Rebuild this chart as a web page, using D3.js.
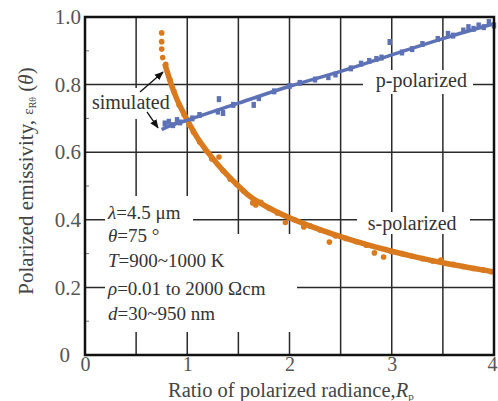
<!DOCTYPE html>
<html>
<head>
<meta charset="utf-8">
<script src="https://cdn.jsdelivr.net/npm/d3@7"></script>
<style>
  body { margin: 0; background: #fff; }
  svg text { font-family: "Liberation Serif", "Times New Roman", serif; }
</style>
</head>
<body>
<svg id="plot" width="498" height="401" viewBox="0 0 498 401"></svg>
<script>
// tick values
const xTicks = [0, 1, 2, 3, 4];
const yTicks = [0, 0.2, 0.4, 0.6, 0.8, 1.0];
const xGrid = [0.5, 1, 1.5, 2, 2.5, 3, 3.5];
const yGrid = [0.2, 0.4, 0.6, 0.8];
const yMinor = [0.1, 0.3, 0.5, 0.7, 0.9];

// simulated curves  [Rp, emissivity]
const sSimulated = [[0.78,0.862],[0.8,0.842],[0.85,0.795],[0.9,0.756],[0.95,0.724],[1.0,0.695],
  [1.1,0.642],[1.2,0.6],[1.3,0.563],[1.4,0.53],[1.5,0.5],[1.6,0.472],[1.8,0.435],[2.0,0.406],
  [2.25,0.376],[2.5,0.35],[2.75,0.327],[3.0,0.307],[3.25,0.289],[3.5,0.273],[3.75,0.259],[4.0,0.246]];
const pSimulated = [[0.75,0.667],[0.8,0.674],[0.9,0.685],[1.0,0.695],[1.5,0.745],[2.0,0.795],
  [2.5,0.839],[3.0,0.888],[3.5,0.936],[4.0,0.98]];

// measured points
const sMeasured = [[0.75,0.953],[0.75,0.927],[0.75,0.905],[0.76,0.88],[0.79,0.86],[0.83,0.815],
  [0.87,0.78],[0.92,0.74],[0.97,0.71],[1.02,0.68],[1.06,0.66],[1.12,0.63],[1.18,0.605],[1.24,0.58],
  [1.31,0.586],[1.35,0.545],[1.42,0.52],[1.48,0.505],[1.55,0.485],[1.64,0.45],[1.67,0.444],
  [1.72,0.452],[1.8,0.434],[1.88,0.42],[1.96,0.392],[2.05,0.4],[2.14,0.379],[2.2,0.382],
  [2.3,0.37],[2.39,0.334],[2.45,0.352],[2.55,0.345],[2.65,0.335],[2.75,0.325],[2.83,0.302],
  [2.92,0.29],[3.0,0.306],[3.1,0.3],[3.2,0.292],[3.3,0.285],[3.4,0.278],[3.48,0.281],
  [3.6,0.268],[3.7,0.262],[3.8,0.256],[3.9,0.251],[3.97,0.246]];
const pMeasured = [[0.78,0.685],[0.82,0.69],[0.86,0.68],[0.9,0.695],[0.93,0.688],[1.05,0.7],
  [1.12,0.71],[1.3,0.72],[1.31,0.757],[1.35,0.716],[1.45,0.74],[1.65,0.74],[1.7,0.76],[1.85,0.78],
  [2.0,0.796],[2.1,0.805],[2.25,0.815],[2.38,0.822],[2.45,0.83],[2.6,0.848],[2.7,0.862],
  [2.78,0.87],[2.85,0.876],[2.9,0.88],[2.98,0.926],[3.1,0.895],[3.2,0.905],[3.3,0.92],
  [3.45,0.935],[3.55,0.95],[3.6,0.945],[3.7,0.96],[3.75,0.97],[3.8,0.965],[3.85,0.975],
  [3.9,0.97],[3.95,0.985],[4.0,0.975]];

const conditions = [
  ["λ", "=4.5 μm"],
  ["θ", "=75 °"],
  ["T", "=900~1000 K"],
  ["ρ", "=0.01 to 2000 Ωcm"],
  ["d", "=30~950 nm"]
];

const orange = "#d97a1f";
const blue = "#5d72b6";

const svg = d3.select("#plot");
const x = d3.scaleLinear().domain([0, 4]).range([85, 494]);
const y = d3.scaleLinear().domain([0, 1]).range([355, 17]);

// grid
svg.append("g").selectAll("line").data(xGrid).enter().append("line")
  .attr("x1", d => x(d)).attr("x2", d => x(d))
  .attr("y1", y(0)).attr("y2", y(1))
  .attr("stroke", "#2a2a2a").attr("stroke-width", 1.5);
svg.append("g").selectAll("line").data(yGrid).enter().append("line")
  .attr("x1", x(0)).attr("x2", x(4))
  .attr("y1", d => y(d)).attr("y2", d => y(d))
  .attr("stroke", "#2a2a2a").attr("stroke-width", 1.5);
svg.append("g").selectAll("line").data(yMinor).enter().append("line")
  .attr("x1", x(0)).attr("x2", x(0) + 4)
  .attr("y1", d => y(d)).attr("y2", d => y(d))
  .attr("stroke", "#777").attr("stroke-width", 1);

// white boxes behind labels
const boxes = [[105, 196, 88, 136], [105, 234, 192, 98], [90, 88, 82, 31], [363, 70, 110, 24], [357, 212, 113, 22]];
svg.append("g").selectAll("rect").data(boxes).enter().append("rect")
  .attr("x", d => d[0]).attr("y", d => d[1]).attr("width", d => d[2]).attr("height", d => d[3])
  .attr("fill", "#fff");

const line = d3.line().x(d => x(d[0])).y(d => y(d[1])).curve(d3.curveMonotoneX);

// measured s dots
svg.append("g").selectAll("circle").data(sMeasured).enter().append("circle")
  .attr("cx", d => x(d[0])).attr("cy", d => y(d[1])).attr("r", 2.8)
  .attr("fill", orange);
svg.append("path").datum(sSimulated).attr("d", line)
  .attr("fill", "none").attr("stroke", orange).attr("stroke-width", 5.5);

svg.append("path").datum(pSimulated).attr("d", line)
  .attr("fill", "none").attr("stroke", blue).attr("stroke-width", 3.5);
svg.append("g").selectAll("rect").data(pMeasured).enter().append("rect")
  .attr("x", d => x(d[0]) - 2.2).attr("y", d => y(d[1]) - 3)
  .attr("width", 4.4).attr("height", 6)
  .attr("fill", blue);

// frame
svg.append("rect")
  .attr("x", x(0)).attr("y", y(1))
  .attr("width", x(4) - x(0)).attr("height", y(0) - y(1))
  .attr("fill", "none").attr("stroke", "#111").attr("stroke-width", 2.5);

// axes labels
const yAxis = svg.append("g")
  .attr("transform", "translate(" + x(0) + ",0)")
  .call(d3.axisLeft(y).tickValues(yTicks).tickSize(0).tickPadding(4)
    .tickFormat(d => d === 0 ? "0" : d3.format(".1f")(d)));
yAxis.select(".domain").remove();
yAxis.selectAll("text").attr("font-size", 21).attr("fill", "#555")
  .attr("font-family", "Liberation Serif")
  .attr("dx", d => d === 0 ? -11 : 0);

const xAxis = svg.append("g")
  .attr("transform", "translate(0," + y(0) + ")")
  .call(d3.axisBottom(x).tickValues(xTicks).tickSize(0).tickPadding(2).tickFormat(d3.format("d")));
xAxis.select(".domain").remove();
xAxis.selectAll("text").attr("font-size", 20).attr("fill", "#555")
  .attr("font-family", "Liberation Serif")
  .attr("dx", d => d === 4 ? -2 : 0);

const xTitle = svg.append("text").attr("x", 168).attr("y", 397)
  .attr("font-size", 20.5).attr("fill", "#444");
xTitle.append("tspan").text("Ratio of polarized radiance,");
xTitle.append("tspan").attr("font-style", "italic").text("R");
xTitle.append("tspan").attr("font-size", 11).attr("dy", 3).text("p");

const yTitle = svg.append("text")
  .attr("transform", "translate(33,181) rotate(-90)")
  .attr("text-anchor", "middle")
  .attr("font-size", 21).attr("fill", "#444");
yTitle.append("tspan").text("Polarized emissivity, ");
yTitle.append("tspan").attr("font-size", 15).text("ε");
yTitle.append("tspan").attr("font-size", 10).attr("dy", 3).text("Rθ");
yTitle.append("tspan").attr("dy", -3).text(" (");
yTitle.append("tspan").attr("font-style", "italic").text("θ");
yTitle.append("tspan").text(")");

// condition block
const condY = [0.423, 0.355, 0.281, 0.198, 0.124];
svg.append("g").selectAll("text").data(conditions).enter().append("text")
  .attr("x", x(0.225)).attr("y", (d, i) => y(condY[i]))
  .attr("dy", "0.35em")
  .attr("font-size", 19).attr("fill", "#333")
  .each(function(d) {
    d3.select(this).append("tspan").attr("font-style", "italic").text(d[0]);
    d3.select(this).append("tspan").text(d[1]);
  });

// curve labels
svg.append("text").attr("x", x(0.068)).attr("y", y(0.749)).attr("dy", "0.35em")
  .attr("font-size", 20).attr("fill", "#333").text("simulated");
svg.append("text").attr("x", x(3.29)).attr("y", y(0.814)).attr("dy", "0.35em")
  .attr("text-anchor", "middle").attr("font-size", 20).attr("fill", "#333").text("p-polarized");
svg.append("text").attr("x", x(3.2)).attr("y", y(0.39)).attr("dy", "0.35em")
  .attr("text-anchor", "middle").attr("font-size", 20).attr("fill", "#333").text("s-polarized");

// arrows
svg.append("defs").append("marker")
  .attr("id", "head").attr("viewBox", "0 0 10 10").attr("refX", 9).attr("refY", 5)
  .attr("markerWidth", 7).attr("markerHeight", 7).attr("orient", "auto")
  .append("path").attr("d", "M0,1 L10,5 L0,9 Z").attr("fill", "#111");
const arrows = [[[0.538, 0.778], [0.763, 0.837]], [[0.606, 0.719], [0.714, 0.672]]];
svg.append("g").selectAll("line").data(arrows).enter().append("line")
  .attr("x1", d => x(d[0][0])).attr("y1", d => y(d[0][1]))
  .attr("x2", d => x(d[1][0])).attr("y2", d => y(d[1][1]))
  .attr("stroke", "#111").attr("stroke-width", 1.3)
  .attr("marker-end", "url(#head)");
</script>
</body>
</html>
